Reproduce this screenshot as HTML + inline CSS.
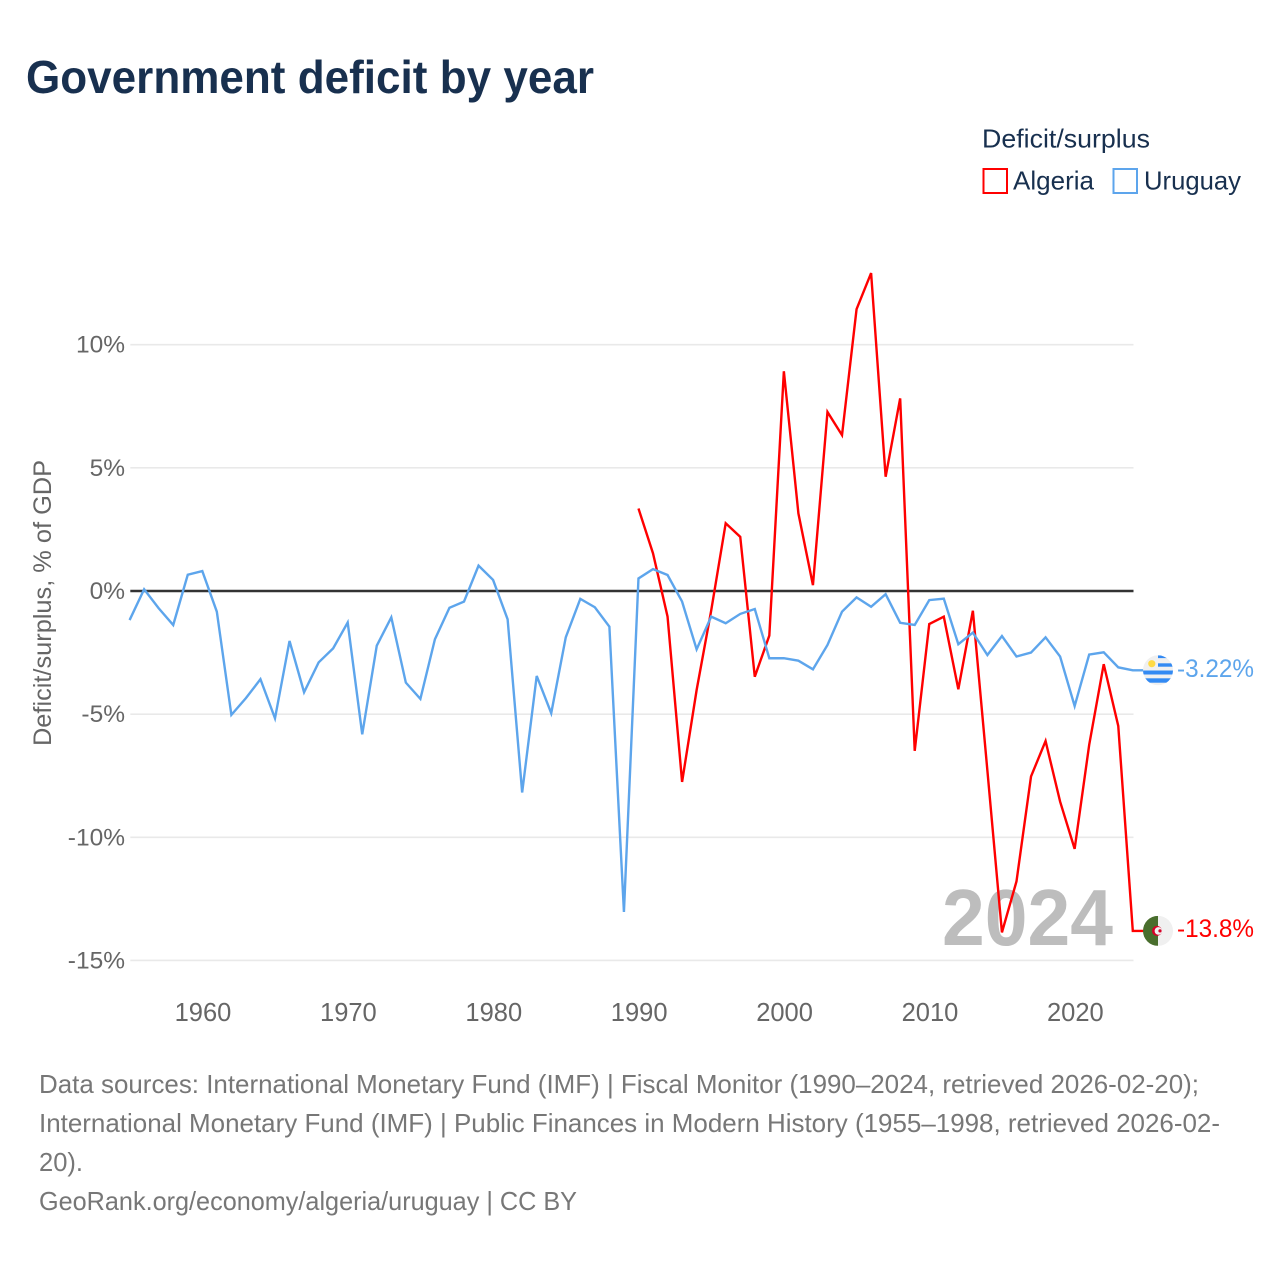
<!DOCTYPE html>
<html lang="en">
<head>
<meta charset="utf-8">
<title>Government deficit by year</title>
<style>
html,body{margin:0;padding:0;background:#fff;width:1280px;height:1280px;overflow:hidden}
svg{display:block}
text{font-family:"Liberation Sans",sans-serif}
</style>
</head>
<body>
<svg id="chart" xmlns="http://www.w3.org/2000/svg" width="1280" height="1280" viewBox="0 0 1280 1280">
  <rect x="0" y="0" width="1280" height="1280" fill="#fff"/>
  <text x="26" y="93" font-size="46" font-weight="700" fill="#18304f" textLength="568" lengthAdjust="spacingAndGlyphs">Government deficit by year</text>

  <text x="982" y="147.5" font-size="26" fill="#18304f" textLength="168" lengthAdjust="spacingAndGlyphs">Deficit/surplus</text>
  <rect x="983.5" y="169" width="23.5" height="24" fill="#fff" stroke="#ff0000" stroke-width="2"/>
  <text x="1013" y="189.5" font-size="26" fill="#18304f" textLength="81" lengthAdjust="spacingAndGlyphs">Algeria</text>
  <rect x="1113.5" y="169" width="23.5" height="24" fill="#fff" stroke="#5da5ec" stroke-width="2"/>
  <text x="1144" y="189.5" font-size="26" fill="#18304f" textLength="97" lengthAdjust="spacingAndGlyphs">Uruguay</text>

  <text transform="translate(51,603) rotate(-90)" text-anchor="middle" font-size="25" fill="#666" textLength="286" lengthAdjust="spacingAndGlyphs">Deficit/surplus, % of GDP</text>

  <g id="grid"></g>
  <g id="xticks"></g>
  <text id="year" x="1113" y="945" text-anchor="end" font-size="80" font-weight="700" fill="#bdbdbd" textLength="171" lengthAdjust="spacingAndGlyphs">2024</text>
  <g id="zero"></g>
  <g id="series"></g>
  <defs>
    <clipPath id="clipU"><circle id="clipUc" cx="1158" cy="670" r="15"/></clipPath>
    <clipPath id="clipA"><circle id="clipAc" cx="1158" cy="930" r="15"/></clipPath>
  </defs>
  <g id="flag-uruguay" clip-path="url(#clipU)"></g>
  <g id="flag-algeria" clip-path="url(#clipA)"></g>
  <g id="endlabels"></g>

  <g font-size="26" fill="#777">
    <text x="39" y="1093" textLength="1160" lengthAdjust="spacingAndGlyphs">Data sources: International Monetary Fund (IMF) | Fiscal Monitor (1990–2024, retrieved 2026-02-20);</text>
    <text x="39" y="1132" textLength="1181" lengthAdjust="spacingAndGlyphs">International Monetary Fund (IMF) | Public Finances in Modern History (1955–1998, retrieved 2026-02-</text>
    <text x="39" y="1171" textLength="44" lengthAdjust="spacingAndGlyphs">20).</text>
    <text x="39" y="1210" textLength="538" lengthAdjust="spacingAndGlyphs">GeoRank.org/economy/algeria/uruguay | CC BY</text>
  </g>
</svg>
<script>
const uruguayStartYear = 1955;
const algeriaStartYear = 1990;
const uruguayValues = [-1.18,0.07,-0.7,-1.38,0.66,0.81,-0.84,-5.03,-4.35,-3.58,-5.17,-2.03,-4.11,-2.9,-2.33,-1.28,-5.82,-2.22,-1.07,-3.72,-4.38,-1.96,-0.68,-0.43,1.03,0.45,-1.15,-8.18,-3.45,-4.96,-1.88,-0.32,-0.66,-1.45,-13.03,0.51,0.89,0.65,-0.43,-2.37,-1.04,-1.31,-0.93,-0.73,-2.73,-2.73,-2.83,-3.18,-2.19,-0.84,-0.26,-0.64,-0.13,-1.29,-1.38,-0.37,-0.31,-2.16,-1.69,-2.6,-1.83,-2.66,-2.5,-1.88,-2.66,-4.67,-2.58,-2.49,-3.1,-3.22];
const algeriaValues = [3.35,1.53,-1.04,-7.75,-4.02,-0.8,2.75,2.2,-3.48,-1.81,8.92,3.15,0.24,7.27,6.33,11.44,12.91,4.64,7.82,-6.49,-1.34,-1.04,-3.99,-0.8,-7.3,-13.86,-11.79,-7.53,-6.09,-8.55,-10.47,-6.25,-2.97,-5.48,-13.8];
const yTickValues = [10,5,0,-5,-10,-15];
const xTickYears = [1960,1970,1980,1990,2000,2010,2020];
const uruguayEndLabel = "-3.22%";
const algeriaEndLabel = "-13.8%";

const NS = "http://www.w3.org/2000/svg";
const plotLeft = 129.6, plotRight = 1132.8, yearMin = 1955, yearMax = 2024;
const gridLeft = 130.3, gridRight = 1133.5;
const zeroY = 591, pxPerPct = 24.63;
function xScale(year){ return plotLeft + (year - yearMin) * (plotRight - plotLeft) / (yearMax - yearMin); }
function yScale(v){ return zeroY - v * pxPerPct; }
function make(tag, attrs, parent){
  const el = document.createElementNS(NS, tag);
  for (const k in attrs) el.setAttribute(k, attrs[k]);
  parent.appendChild(el);
  return el;
}
const grid = document.getElementById("grid");
const zero = document.getElementById("zero");
yTickValues.forEach(function(v){
  const y = yScale(v);
  const line = make("line", {x1: gridLeft, x2: gridRight, y1: y, y2: y, stroke: v === 0 ? "#333" : "#e9e9e9", "stroke-width": v === 0 ? 2.4 : 1.6}, v === 0 ? zero : grid);
  
  
  const label = make("text", {x: 125, y: y + 8, "text-anchor": "end", "font-size": 24.5, fill: "#666"}, grid);
  
  
  label.textContent = v + "%";
});
const xticks = document.getElementById("xticks");
xTickYears.forEach(function(yr){
  const label = make("text", {x: xScale(yr) + 0.7, y: 1021, "text-anchor": "middle", "font-size": 25.5, fill: "#666"}, xticks);
  
  
  label.textContent = yr;
});
function drawSeries(values, startYear, color, flagX){
  const parent = document.getElementById("series");
  const pts = values.map(function(v, i){ return xScale(startYear + i).toFixed(2) + "," + yScale(v).toFixed(2); });
  pts.push(flagX + "," + yScale(values[values.length - 1]).toFixed(2));
  const line = make("polyline", {points: pts.join(" "), fill: "none", stroke: color, "stroke-width": 2.4, "stroke-linejoin": "miter", "stroke-miterlimit": 4}, parent);
  return line;
}
const algeriaLine = drawSeries(algeriaValues, algeriaStartYear, "#ff0000", 1145);


const uruguayLine = drawSeries(uruguayValues, uruguayStartYear, "#5da5ec", 1145);



/* flags */
const cx = 1158;
const uY = yScale(uruguayValues[uruguayValues.length - 1]);
const aY = yScale(algeriaValues[algeriaValues.length - 1]);
document.getElementById("clipUc").setAttribute("cy", uY);
document.getElementById("clipAc").setAttribute("cy", aY);
const fu = document.getElementById("flag-uruguay");
make("rect", {x: cx - 15, y: uY - 15, width: 30, height: 30, fill: "#f0f0f0"}, fu);
make("rect", {x: cx, y: uY - 15, width: 15, height: 2.8, fill: "#338af3"}, fu);
make("rect", {x: cx, y: uY - 7, width: 15, height: 3.4, fill: "#338af3"}, fu);
make("rect", {x: cx - 15, y: uY + 0.2, width: 30, height: 4, fill: "#338af3"}, fu);
make("rect", {x: cx - 15, y: uY + 8, width: 30, height: 4.4, fill: "#338af3"}, fu);
make("circle", {cx: cx - 6.2, cy: uY - 6.6, r: 3.6, fill: "#ffda44"}, fu);
const fa = document.getElementById("flag-algeria");
make("rect", {x: cx - 15, y: aY - 15, width: 15, height: 30, fill: "#496e2d"}, fa);
make("rect", {x: cx, y: aY - 15, width: 15, height: 30, fill: "#f0f0f0"}, fa);
make("circle", {cx: cx - 1, cy: aY, r: 5, fill: "#d80027"}, fa);
make("circle", {cx: cx + 0.4, cy: aY, r: 3.8, fill: "#f0f0f0"}, fa);
make("circle", {cx: cx + 2, cy: aY, r: 1.6, fill: "#d80027"}, fa);

/* end labels */
const endLabels = document.getElementById("endlabels");
const uLabel = make("text", {x: 1177, y: uY + 6.5, "font-size": 25, fill: "#5da5ec", textLength: 77, lengthAdjust: "spacingAndGlyphs"}, endLabels);


uLabel.textContent = uruguayEndLabel;
const aLabel = make("text", {x: 1177, y: aY + 6, "font-size": 25, fill: "#ff0000", textLength: 77, lengthAdjust: "spacingAndGlyphs"}, endLabels);


aLabel.textContent = algeriaEndLabel;
</script>
</body>
</html>
